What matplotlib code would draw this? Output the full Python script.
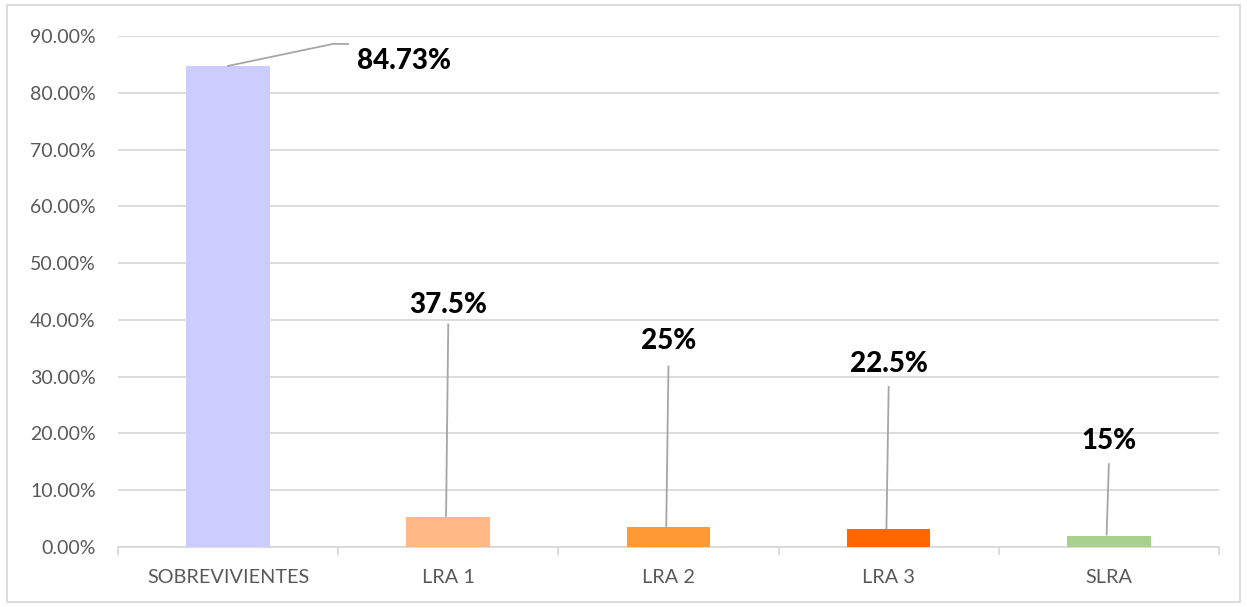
import matplotlib.pyplot as plt
from matplotlib.patches import Rectangle
from matplotlib.ticker import FuncFormatter, FixedLocator

plt.rcParams['font.family'] = ['Lato', 'DejaVu Sans']

categorias = ['SOBREVIVIENTES', 'LRA 1', 'LRA 2', 'LRA 3', 'SLRA']
porcentajes = [84.73, 5.3, 3.5, 3.1, 2.0]
etiquetas = ['84.73%', '37.5%', '25%', '22.5%', '15%']
colores = ['#CCCCFF', '#FFB785', '#FF9933', '#FF6600', '#A9D18E']

# posicion de cada etiqueta (x, y) y punto donde termina su linea guia
pos_etiqueta = [(0.80, 85.6), (1.0, 42.6), (2.0, 36.3), (3.0, 32.2), (4.0, 18.7)]
inicio_guia = [None, (1.0, 39.2), (2.0, 31.8), (3.0, 28.2), (4.0, 14.6)]

fig = plt.figure(figsize=(12.47, 6.07), dpi=100)
ax = fig.add_axes([0.0946, 0.0988, 0.8829, 0.8419])

x = range(len(categorias))
ax.bar(x, porcentajes, width=0.38, color=colores, zorder=3)

ax.set_xlim(-0.5, len(categorias) - 0.5)
ax.set_ylim(0, 90)
ax.set_yticks(range(0, 91, 10))
ax.yaxis.set_major_formatter(FuncFormatter(lambda v, p: f'{v:.2f}%'))
ax.grid(axis='y', color='#D9D9D9', linewidth=1.3, zorder=0)
ax.set_axisbelow(True)

ax.set_xticks(list(x))
ax.set_xticklabels(categorias)
ax.xaxis.set_minor_locator(FixedLocator([i - 0.5 for i in range(len(categorias) + 1)]))
ax.tick_params(axis='x', which='major', length=0, pad=16, labelsize=14.3, labelcolor='#595959')
ax.tick_params(axis='x', which='minor', length=6, width=1.3, color='#D9D9D9')
ax.tick_params(axis='y', length=0, pad=16, labelsize=14, labelcolor='#595959')

for lado in ['top', 'right', 'left']:
    ax.spines[lado].set_visible(False)
ax.spines['bottom'].set_color('#D9D9D9')
ax.spines['bottom'].set_linewidth(1.3)

# lineas guia y etiquetas de datos
ax.plot([0, 0.476, 0.545], [porcentajes[0], 88.6, 88.6], color='#A6A6A6', lw=1.3, zorder=4)
for i, (texto, (tx, ty)) in enumerate(zip(etiquetas, pos_etiqueta)):
    if inicio_guia[i] is not None:
        gx, gy = inicio_guia[i]
        ax.plot([gx, i - 0.01], [gy, porcentajes[i] + 0.2], color='#A6A6A6', lw=1.3, zorder=4)
    ax.text(tx, ty, texto, ha='center', va='center', fontsize=20,
            fontweight='black', color='black', zorder=5)

# borde exterior del grafico
fig.patches.append(Rectangle((0.0056, 0.008), 0.989, 0.983, transform=fig.transFigure,
                             fill=False, edgecolor='#D9D9D9', linewidth=1.3))

fig.savefig('out.png', dpi=100)
